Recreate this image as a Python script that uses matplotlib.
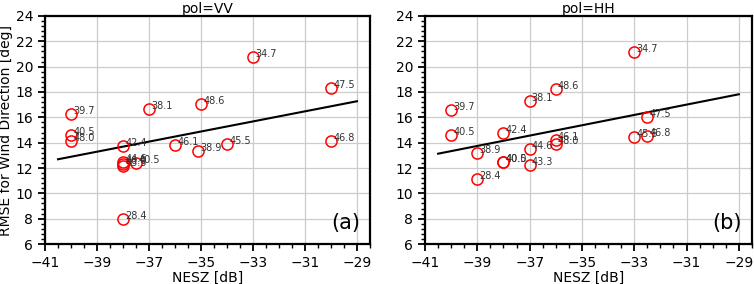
import matplotlib.pyplot as plt
from matplotlib.ticker import AutoMinorLocator, MultipleLocator

# pol=VV
vv_nesz = [-40, -40, -40, -38, -38, -38, -38, -37.5, -38, -37, -36, -35, -35.1, -34, -33, -30, -30]
vv_rmse = [16.3, 14.6, 14.13, 13.76, 12.45, 12.3, 12.15, 12.42, 8.0, 16.66, 13.79, 17.05, 13.35, 13.87, 20.8, 18.34, 14.13]
vv_labels = ['39.7', '40.5', '48.0', '42.4', '44.6', '40.0', '43.3', '40.5', '28.4', '38.1',
             '46.1', '48.6', '38.9', '45.5', '34.7', '47.5', '46.8']

# pol=HH
hh_nesz = [-40, -40, -38, -39, -39, -38, -38, -37, -37, -37, -36, -36, -36, -33, -33, -32.5, -32.5]
hh_rmse = [16.6, 14.6, 14.77, 13.16, 11.13, 12.48, 12.48, 13.48, 12.27, 17.29, 14.2, 13.87, 18.24,
           21.13, 14.48, 16.05, 14.55]
hh_labels = ['39.7', '40.5', '42.4', '38.9', '28.4', '40.0', '40.5', '44.6', '43.3', '38.1',
             '46.1', '48.0', '48.6', '34.7', '45.5', '47.5', '46.8']

# linear fit lines (end points)
fit_x = [-40.5, -29.0]
fit_vv = [12.69, 17.27]
fit_hh = [13.13, 17.82]


def draw_panel(ax, x, y, labels, fx, fy, title, letter):
    ax.plot(x, y, 'o', mfc='none', mec='red', ms=8, mew=1.1, zorder=3)
    for xi, yi, lab in zip(x, y, labels):
        ax.annotate(lab, (xi, yi), xytext=(1.5, 0), textcoords='offset points',
                    fontsize=7, color='#333333', zorder=4)
    ax.plot(fx, fy, color='black', lw=1.5, zorder=2)
    ax.set_xlim(-41, -28.5)
    ax.set_ylim(6, 24)
    ax.xaxis.set_major_locator(MultipleLocator(2, offset=1))
    ax.yaxis.set_major_locator(MultipleLocator(2))
    ax.xaxis.set_minor_locator(AutoMinorLocator(4))
    ax.yaxis.set_minor_locator(AutoMinorLocator(5))
    ax.grid(True, which='major', color='#cccccc', lw=0.9)
    ax.set_axisbelow(True)
    ax.tick_params(which='major', direction='out', length=5, width=1.3, labelsize=10)
    ax.tick_params(which='minor', direction='out', length=3, width=1.0)
    for s in ax.spines.values():
        s.set_linewidth(1.6)
    ax.set_title(title, fontsize=10, pad=2)
    ax.set_xlabel('NESZ [dB]', fontsize=10, labelpad=1)
    ax.text(0.97, 0.05, letter, transform=ax.transAxes, ha='right', va='bottom', fontsize=15)


fig = plt.figure(figsize=(7.54, 2.84), dpi=100)
ax1 = fig.add_axes([0.0597, 0.1408, 0.431, 0.8029])
ax2 = fig.add_axes([0.5637, 0.1408, 0.4336, 0.8029])

draw_panel(ax1, vv_nesz, vv_rmse, vv_labels, fit_x, fit_vv, 'pol=VV', '(a)')
draw_panel(ax2, hh_nesz, hh_rmse, hh_labels, fit_x, fit_hh, 'pol=HH', '(b)')
ax1.set_ylabel('RMSE for Wind Direction [deg]', fontsize=10, labelpad=2)

fig.savefig('out.png', dpi=100)
